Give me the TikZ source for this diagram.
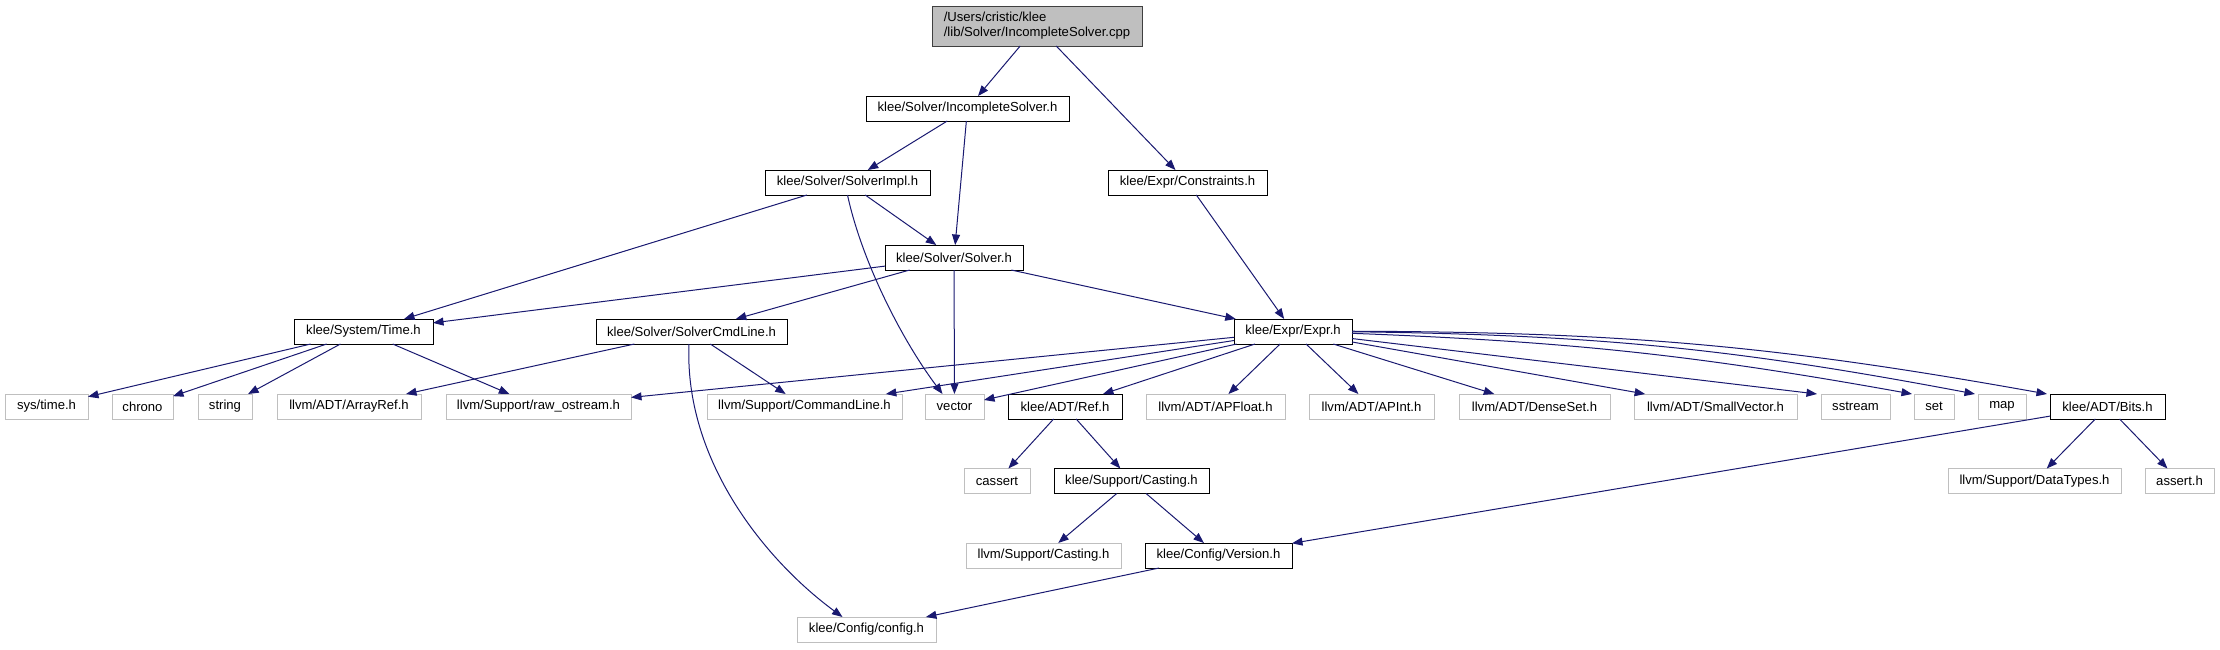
\documentclass[tikz,border=0pt]{standalone}
\usepackage{fontspec}
\setmainfont{Liberation Sans}
\usetikzlibrary{arrows.meta}
\definecolor{edgeblue}{HTML}{191970}
\definecolor{gborder}{HTML}{BFBFBF}
\definecolor{srcfill}{HTML}{BFBFBF}
\definecolor{srcborder}{HTML}{404040}
\tikzset{
  base/.style={inner sep=0pt, outer sep=0pt, minimum height=25pt, line width=1pt,
    font=\fontsize{13.1}{15}\selectfont, text=black},
  kbox/.style={base, draw=black, fill=white},
  gbox/.style={base, draw=gborder, fill=white},
  srcbox/.style={base, draw=srcborder, fill=srcfill, align=left, minimum height=40pt},
  edge/.style={draw=edgeblue, line width=1pt, -{Triangle[length=10.5pt,width=8pt]}, fill=none}
}
\begin{document}
\begin{tikzpicture}[x=1pt,y=-1pt]
\useasboundingbox (0,0) rectangle (2220,649);
% row 0
\node[srcbox, minimum width=210pt] (src) at (1037,26) {/Users/cristic/klee\\/lib/Solver/IncompleteSolver.cpp};
% row 1
\node[kbox, minimum width=203pt] (inc) at (967.5,108.5) {klee/Solver/IncompleteSolver.h};
% row 2
\node[kbox, minimum width=165pt] (impl) at (847.5,182.5) {klee/Solver/SolverImpl.h};
\node[kbox, minimum width=159pt] (cons) at (1187.5,182.5) {klee/Expr/Constraints.h};
% row 3
\node[kbox, minimum width=138pt] (solver) at (954,257.5) {klee/Solver/Solver.h};
% row 4
\node[kbox, minimum width=139pt] (time) at (363.5,331.5) {klee/System/Time.h};
\node[kbox, minimum width=191pt] (cmd) at (691.5,331.5) {klee/Solver/SolverCmdLine.h};
\node[kbox, minimum width=118pt] (expr) at (1293,331.5) {klee/Expr/Expr.h};
% row 5
\node[gbox, minimum width=83pt] (systime) at (46.5,406.5) {sys/time.h};
\node[gbox, minimum width=61pt] (chrono) at (142.5,406.5) {chrono};
\node[gbox, minimum width=54pt] (string) at (225,406.5) {string};
\node[gbox, minimum width=144pt] (arrayref) at (349,406.5) {llvm/ADT/ArrayRef.h};
\node[gbox, minimum width=185pt] (rawos) at (538.5,406.5) {llvm/Support/raw\_ostream.h};
\node[gbox, minimum width=195pt] (cmdline) at (804.5,406.5) {llvm/Support/CommandLine.h};
\node[gbox, minimum width=59pt] (vector) at (954.5,406.5) {vector};
\node[kbox, minimum width=114pt] (ref) at (1065,406.5) {klee/ADT/Ref.h};
\node[gbox, minimum width=139pt] (apfloat) at (1215.5,406.5) {llvm/ADT/APFloat.h};
\node[gbox, minimum width=125pt] (apint) at (1371.5,406.5) {llvm/ADT/APInt.h};
\node[gbox, minimum width=151pt] (denseset) at (1534.5,406.5) {llvm/ADT/DenseSet.h};
\node[gbox, minimum width=163pt] (smallvec) at (1715.5,406.5) {llvm/ADT/SmallVector.h};
\node[gbox, minimum width=69pt] (sstream) at (1855.5,406.5) {sstream};
\node[gbox, minimum width=40pt] (set) at (1934,406.5) {set};
\node[gbox, minimum width=48pt] (map) at (2002,406.5) {map};
\node[kbox, minimum width=115pt] (bits) at (2107.5,406.5) {klee/ADT/Bits.h};
% row 6
\node[gbox, minimum width=66pt] (cassert) at (997,481) {cassert};
\node[kbox, minimum width=155pt] (casting) at (1131.5,481) {klee/Support/Casting.h};
\node[gbox, minimum width=173pt] (datatypes) at (2034.5,481) {llvm/Support/DataTypes.h};
\node[gbox, minimum width=69pt] (asserth) at (2179.5,481) {assert.h};
% row 7
\node[gbox, minimum width=155pt] (llvmcast) at (1043.5,555.5) {llvm/Support/Casting.h};
\node[kbox, minimum width=147pt] (version) at (1218.5,555.5) {klee/Config/Version.h};
% row 8
\node[gbox, minimum width=139pt] (config) at (866.5,629.5) {klee/Config/config.h};

% edges
\draw[edge] (src) -- (inc);
\draw[edge] (src) -- (cons);
\draw[edge] (inc) -- (impl);
\draw[edge] (inc) -- (solver);
\draw[edge] (impl) -- (time);
\draw[edge] (impl) -- (solver);
\draw[edge] (impl.south) .. controls (862,262) and (902,340) .. ([xshift=-12pt]vector.north);
\draw[edge] (cons) -- (expr);
\draw[edge] (solver) -- (time);
\draw[edge] (solver) -- (cmd);
\draw[edge] (solver) -- (vector);
\draw[edge] (solver) -- (expr);
\draw[edge] (time) -- (systime);
\draw[edge] (time) -- (chrono);
\draw[edge] (time) -- (string);
\draw[edge] (time) -- (rawos);
\draw[edge] (cmd) -- (arrayref);
\draw[edge] (cmd) -- (cmdline);
\draw[edge] ([xshift=-2.5pt]cmd.south) .. controls (684,460) and (765,560) .. ([xshift=-24pt]config.north);
\draw[edge] (expr) -- (rawos);
\draw[edge] (expr) -- (cmdline);
\draw[edge] (expr) -- (vector);
\draw[edge] (expr) -- (ref);
\draw[edge] (expr) -- (apfloat);
\draw[edge] (expr) -- (apint);
\draw[edge] (expr) -- (denseset);
\draw[edge] (expr) -- (smallvec);
\draw[edge] (expr) -- ([xshift=-4pt]sstream.north west);
\draw[edge] (expr) to[bend left=4] ([xshift=-2pt]set.north west);
\draw[edge] (expr) to[bend left=5] ([xshift=-3pt]map.north west);
\draw[edge] (expr) to[bend left=5] ([xshift=-3pt]bits.north west);
\draw[edge] (ref) -- (cassert);
\draw[edge] (ref) -- (casting);
\draw[edge] (casting) -- (llvmcast);
\draw[edge] (casting) -- (version);
\draw[edge] (bits) -- (datatypes);
\draw[edge] (bits) -- (asserth);
\draw[edge] (bits) -- (version);
\draw[edge] (version) -- (config);
\end{tikzpicture}
\end{document}
